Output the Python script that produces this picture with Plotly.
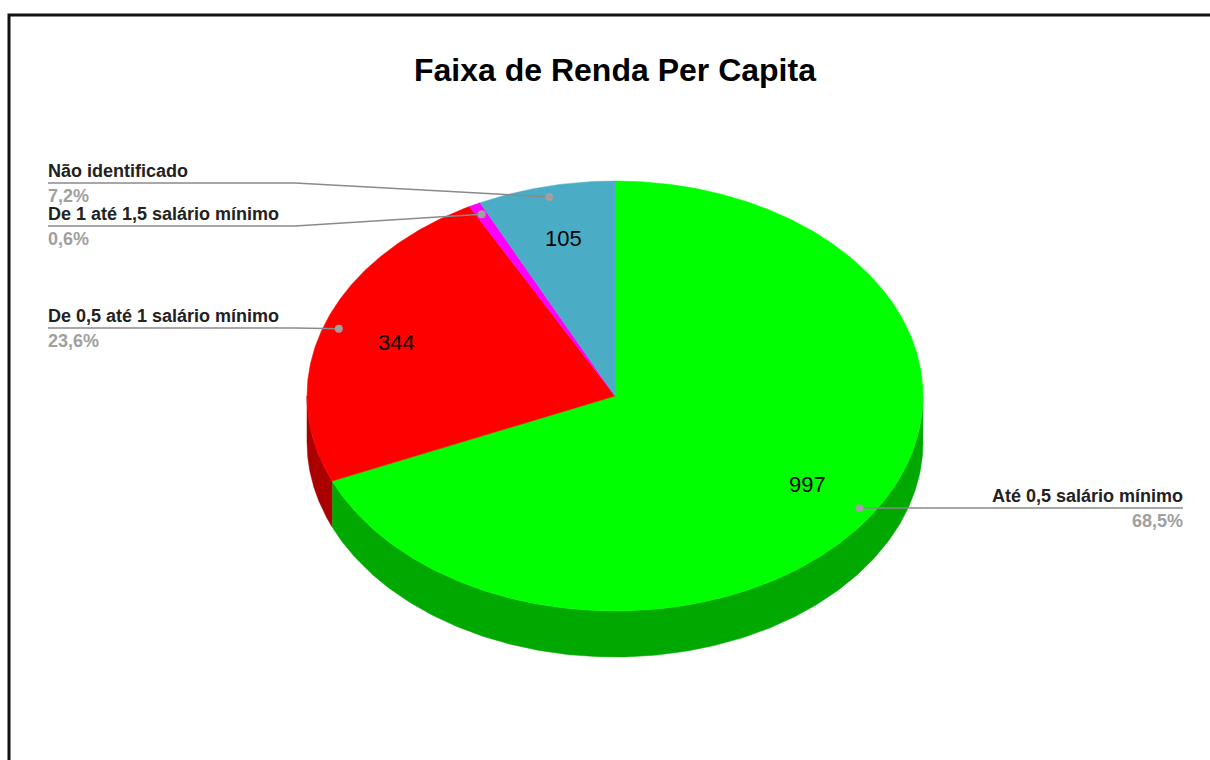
import numpy as np
import plotly.graph_objects as go

# dados do gráfico (ordem horária a partir do topo)
categories = [
    "Até 0,5 salário mínimo",
    "De 0,5 até 1 salário mínimo",
    "De 1 até 1,5 salário mínimo",
    "Não identificado",
]
values = [997, 344, 9, 105]
show_value_inside = [True, True, False, True]

# estilo
top_colors = ["#00ff00", "#ff0000", "#ff00ff", "#4bacc6"]
side_colors = ["#00a800", "#aa0000", "#aa00aa", "#327285"]
FONT = "Arial, Liberation Sans, sans-serif"

# geometria da "pizza 3D" (unidades = pixels da janela)
CX, CY = 615, 396
RX, RY = 308, 215
DEPTH = 46

# posição das legendas externas: (lado, y da linha)
label_layout = [("right", 508), ("left", 328), ("left", 226), ("left", 183)]
LEFT_X, RIGHT_X, ELBOW_X = 48, 1183, 295
PAD = 2  # padding interno das anotações do plotly


def ellipse_pt(theta, frac=1.0, dy=0.0):
    # theta em graus, sentido horário a partir do topo
    t = np.radians(theta)
    return CX + RX * frac * np.sin(t), CY - RY * frac * np.cos(t) + dy


total = sum(values)
fracs = [v / total for v in values]
starts = np.concatenate([[0], np.cumsum(fracs)[:-1]]) * 360
ends = np.cumsum(fracs) * 360

fig = go.Figure()

# lateral (parte da frente, entre 90° e 270°)
for a, b, col in zip(starts, ends, side_colors):
    lo, hi = max(a, 90), min(b, 270)
    if lo >= hi:
        continue
    th = np.linspace(lo, hi, 200)
    x1, y1 = ellipse_pt(th)
    x2, y2 = ellipse_pt(th[::-1], dy=DEPTH)
    fig.add_trace(go.Scatter(
        x=np.concatenate([x1, x2]), y=np.concatenate([y1, y2]),
        fill="toself", fillcolor=col, mode="lines",
        line=dict(width=0.5, color=col), hoverinfo="skip", showlegend=False,
    ))

# topo
for a, b, col in zip(starts, ends, top_colors):
    th = np.linspace(a, b, max(int((b - a) * 2), 4))
    xs, ys = ellipse_pt(th)
    fig.add_trace(go.Scatter(
        x=np.concatenate([[CX], xs, [CX]]), y=np.concatenate([[CY], ys, [CY]]),
        fill="toself", fillcolor=col, mode="lines",
        line=dict(width=0.5, color=col), hoverinfo="skip", showlegend=False,
    ))

annotations = []
for i, (cat, v) in enumerate(zip(categories, values)):
    mid = (starts[i] + ends[i]) / 2
    # valor dentro da fatia
    if show_value_inside[i]:
        tx, ty = ellipse_pt(mid, 0.75)
        annotations.append(dict(
            x=tx, y=ty, text=str(v), showarrow=False,
            font=dict(size=22, color="#000000", family=FONT),
        ))
    # linha guia e ponto
    dx, dy = ellipse_pt(mid, 0.95)
    side, ly = label_layout[i]
    if side == "left":
        lx = [dx, ELBOW_X, LEFT_X]
        ly_ = [dy, ly, ly]
        anchor, ax = "left", LEFT_X - PAD
    else:
        lx = [dx, RIGHT_X]
        ly_ = [ly, ly]
        anchor, ax = "right", RIGHT_X + PAD
    fig.add_trace(go.Scatter(
        x=lx, y=ly_, mode="lines", line=dict(color="#8a8a8a", width=1.5),
        hoverinfo="skip", showlegend=False,
    ))
    fig.add_trace(go.Scatter(
        x=[dx], y=[dy], mode="markers", marker=dict(color="#a0a0a0", size=8),
        hoverinfo="skip", showlegend=False,
    ))
    pct = f"{100 * v / total:.1f}%".replace(".", ",")
    annotations.append(dict(
        x=ax, y=ly - 12, text=f"<b>{cat}</b>", showarrow=False,
        xanchor=anchor, font=dict(size=18, color="#222222", family=FONT),
    ))
    annotations.append(dict(
        x=ax, y=ly + 13, text=f"<b>{pct}</b>", showarrow=False,
        xanchor=anchor, font=dict(size=18, color="#a0a0a0", family=FONT),
    ))

annotations.append(dict(
    x=615, y=70, text="<b>Faixa de Renda Per Capita</b>", showarrow=False,
    font=dict(size=32, color="#000000", family=FONT),
))

fig.update_layout(
    width=1210,
    height=760,
    margin=dict(l=0, r=0, t=0, b=0),
    paper_bgcolor="white",
    plot_bgcolor="white",
    xaxis=dict(range=[0, 1210], visible=False, fixedrange=True),
    yaxis=dict(range=[760, 0], visible=False, fixedrange=True),
    annotations=annotations,
    shapes=[dict(
        type="rect", x0=9, y0=15, x1=1230, y1=790,
        line=dict(color="#111111", width=3),
    )],
)

# tira a margem padrão do body para a figura ocupar a janela inteira
fig.write_html(
    "out.html",
    config={"displayModeBar": False},
    post_script="document.body.style.margin='0';document.body.style.overflow='hidden';",
)
